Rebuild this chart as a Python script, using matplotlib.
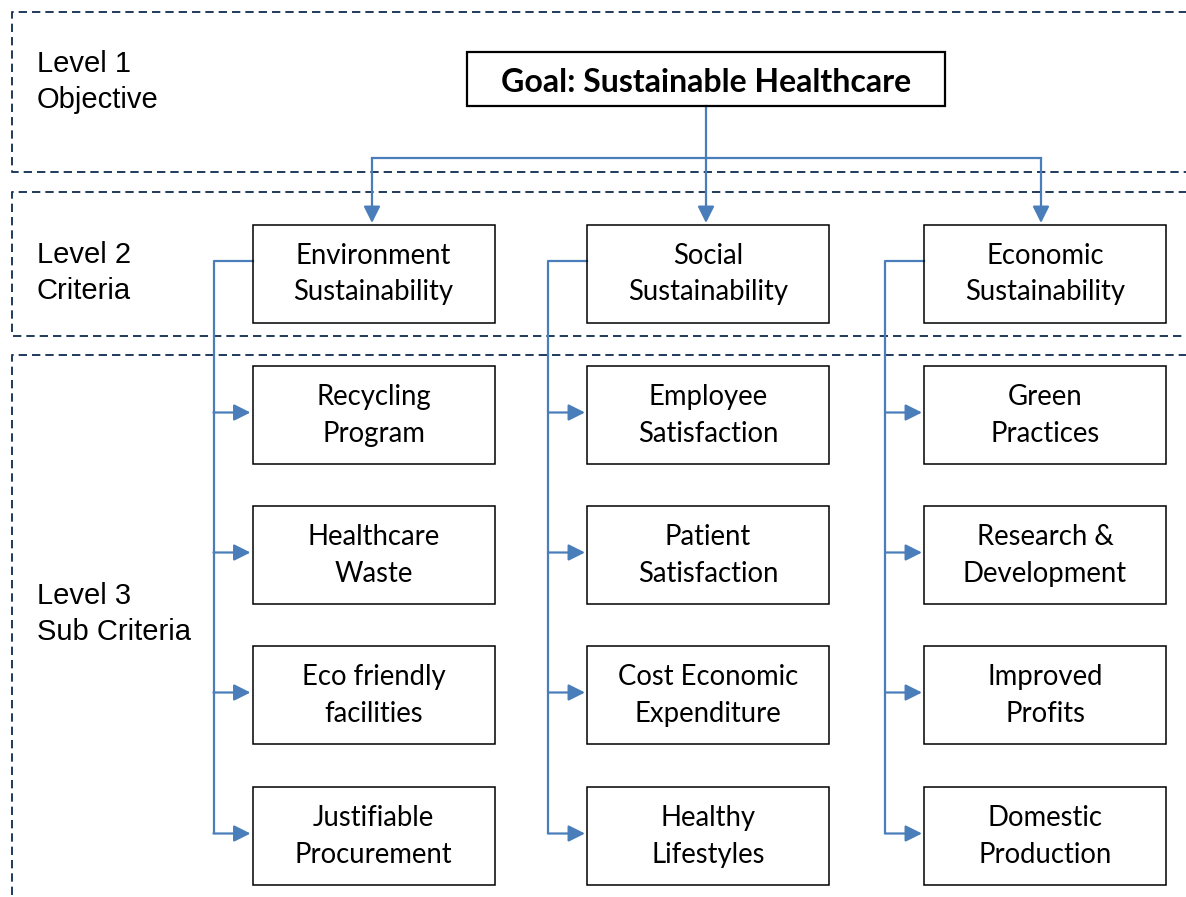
import matplotlib.pyplot as plt
from matplotlib.patches import Rectangle
from matplotlib.lines import Line2D

# --- content ---
level_labels = ["Level 1\nObjective", "Level 2\nCriteria", "Level 3\nSub Criteria"]
goal = "Goal: Sustainable Healthcare"
criteria = ["Environment\nSustainability", "Social\nSustainability", "Economic\nSustainability"]
sub_criteria = [
    ["Recycling\nProgram", "Healthcare\nWaste", "Eco friendly\nfacilities", "Justifiable\nProcurement"],
    ["Employee\nSatisfaction", "Patient\nSatisfaction", "Cost Economic\nExpenditure", "Healthy\nLifestyles"],
    ["Green\nPractices", "Research &\nDevelopment", "Improved\nProfits", "Domestic\nProduction"],
]

# --- layout (pixel coords, y downwards) ---
W, H = 1186, 897
col_x = [373.5, 708, 1045]
box_w, box_h = 242, 98
crit_y = 274
row_y = [415.5, 555.5, 695.5, 836.5]
goal_box = (467, 52, 478, 54)  # x, y, w, h
bus_y = 158
bands = [(12, 172), (192, 336), (355, 905)]
label_y = [82, 273, 614]

blue = "#4A7EBB"
navy = "#1F3A5C"
box_font = "Lato"

plt.rcParams["lines.scale_dashes"] = False

fig = plt.figure(figsize=(W / 100, H / 100), dpi=100)
ax = fig.add_axes([0, 0, 1, 1])
ax.set_xlim(0, W)
ax.set_ylim(H, 0)
ax.axis("off")

# dashed level bands (open on the right)
for top, bot in bands:
    ax.add_line(Line2D([W + 5, 12, 12, W + 5], [top, top, bot, bot],
                       color=navy, lw=1.4, dashes=(6, 3.6)))

for lab, y in zip(level_labels, label_y):
    ax.text(37, y, lab, family="Liberation Sans", fontsize=21,
            ha="left", va="center", linespacing=1.4)


def box(cx, cy, text, w=box_w, h=box_h, lw=1.1, **kw):
    ax.add_patch(Rectangle((cx - w / 2, cy - h / 2), w, h, fill=False,
                           ec="black", lw=lw, zorder=3))
    ax.text(cx, cy, text, ha="center", va="center", family=box_font,
            linespacing=1.5, zorder=4, **kw)


def arrow(x0, y0, x1, y1):
    ax.annotate("", xy=(x1, y1), xytext=(x0, y0),
                arrowprops=dict(arrowstyle="-|>,head_length=1.0,head_width=0.5",
                                mutation_scale=10, color=blue, lw=1.6,
                                shrinkA=0, shrinkB=0))


# goal
gx, gy, gw, gh = goal_box
ax.add_patch(Rectangle((gx, gy), gw, gh, fill=False, ec="black", lw=1.6, zorder=3))
ax.text(gx + gw / 2, gy + gh / 2 + 3, goal, ha="center", va="center",
        family=box_font, fontsize=23, fontweight="bold", zorder=4)

goal_cx = 706
ax.plot([goal_cx, goal_cx], [gy + gh, bus_y], color=blue, lw=1.6)
ax.plot([col_x[0] - 1.5, col_x[2] - 4], [bus_y, bus_y], color=blue, lw=1.6)
for i, cx in enumerate(col_x):
    ax_x = [372, 706, 1041][i]
    arrow(ax_x, bus_y, ax_x, crit_y - box_h / 2 - 2)

# criteria and sub-criteria
for i, cx in enumerate(col_x):
    box(cx, crit_y, criteria[i], fontsize=19.8)
    left = cx - box_w / 2
    trunk = left - 39
    ax.plot([left, trunk, trunk], [crit_y - 13, crit_y - 13, row_y[-1] - 3],
            color=blue, lw=1.6, zorder=2)
    for j, ry in enumerate(row_y):
        box(cx, ry, sub_criteria[i][j], fontsize=19.8)
        arrow(trunk, ry - 3, left - 2, ry - 3)

fig.savefig("out.png", dpi=100, facecolor="white")
